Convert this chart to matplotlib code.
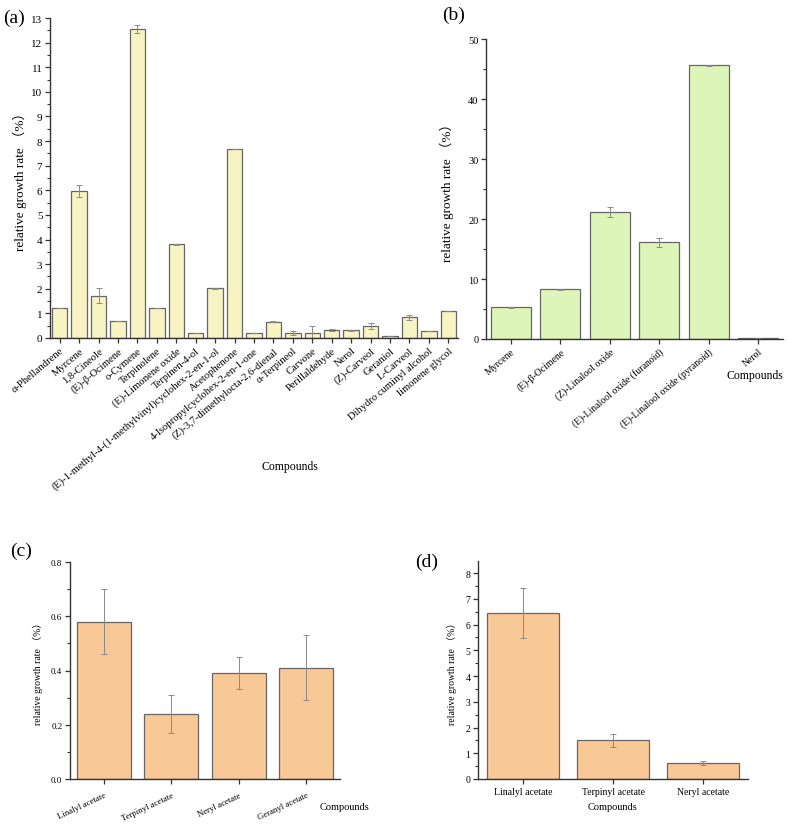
import matplotlib
matplotlib.use("Agg")
import matplotlib.pyplot as plt
from matplotlib.ticker import MultipleLocator, AutoMinorLocator

plt.rcParams['font.family'] = ['Liberation Serif', 'Noto Sans CJK SC', 'DejaVu Sans']

# ---------------- data ----------------
a_names = ["α-Phellandrene", "Myrcene", "1,8-Cineole", "(E)-β-Ocimene", "o-Cymene",
           "Terpinolene", "(E)-Limonene oxide", "Terpinen-4-ol",
           "(E)-1-methyl-4-(1-methylvinyl)cyclohex-2-en-1-ol", "Acetophenone",
           "4-Isopropylcyclohex-2-en-1-one", "(Z)-3,7-dimethylocta-2,6-dienal",
           "α-Terpineol", "Carvone", "Perillaldehyde", "Nerol", "(Z)-Carveol",
           "Geraniol", "L-Carveol", "Dihydro cuminyl alcohol", "limonene glycol"]
a_vals = [1.22, 5.98, 1.72, 0.69, 12.55, 1.20, 3.80, 0.20, 2.02, 7.67, 0.20, 0.67,
          0.20, 0.20, 0.33, 0.31, 0.48, 0.10, 0.84, 0.28, 1.09]
a_err = [0.0, 0.25, 0.30, 0.0, 0.15, 0.0, 0.03, 0.0, 0.03, 0.0, 0.0, 0.02,
         0.07, 0.28, 0.03, 0.02, 0.12, 0.0, 0.10, 0.0, 0.0]

b_names = ["Myrcene", "(E)-β-Ocimene", "(Z)-Linalool oxide", "(E)-Linalool oxide (furanoid)",
           "(E)-Linalool oxide (pyranoid)", "Nerol"]
b_vals = [5.3, 8.3, 21.2, 16.1, 45.6, 0.1]
b_err = [0.1, 0.1, 0.8, 0.7, 0.1, 0.0]

c_names = ["Linalyl acetate", "Terpinyl acetate", "Neryl acetate", "Geranyl acetate"]
c_vals = [0.58, 0.24, 0.39, 0.41]
c_err = [0.12, 0.07, 0.06, 0.12]

d_names = ["Linalyl acetate", "Terpinyl acetate", "Neryl acetate"]
d_vals = [6.45, 1.51, 0.62]
d_err = [0.97, 0.25, 0.07]

YLABEL = "relative growth rate （%）"

fig = plt.figure(figsize=(7.88, 8.29), dpi=100)
W, H = 788, 829

def ax_px(l, r, t, b):
    return fig.add_axes([l / W, 1 - b / H, (r - l) / W, (b - t) / H])

def style(ax, major, ylim, ts):
    for s in ["top", "right"]:
        ax.spines[s].set_visible(False)
    for s in ["left", "bottom"]:
        ax.spines[s].set_color("#333333")
        ax.spines[s].set_linewidth(1.0)
    ax.set_ylim(*ylim)
    ax.yaxis.set_major_locator(MultipleLocator(major))
    ax.yaxis.set_minor_locator(AutoMinorLocator(2))
    ax.tick_params(axis="both", which="major", direction="out", length=3.5,
                   width=0.9, color="#333333", labelsize=ts, pad=2)
    ax.tick_params(axis="y", which="minor", direction="out", length=2,
                   width=0.8, color="#333333")

def bars(ax, vals, err, color, capsize):
    x = list(range(len(vals)))
    ax.bar(x, vals, width=0.8, color=color, edgecolor="#666666", linewidth=0.9,
           yerr=err, error_kw=dict(ecolor="#8a8a8a", elinewidth=0.7,
                                   capsize=capsize, capthick=0.7))
    ax.set_xticks(x)
    ax.set_xlim(-0.5, len(vals) - 0.5)

# ---------- (a) ----------
axa = ax_px(50, 458, 19, 339)
bars(axa, a_vals, a_err, "#F7F3C2", 2.5)
style(axa, 1, (0, 13), 8)
axa.set_xticklabels(a_names, rotation=40, ha="right", rotation_mode="anchor", fontsize=7.6)
axa.set_ylabel(YLABEL, fontsize=9.5, labelpad=3)
fig.text(290 / W, 1 - 467 / H, "Compounds", ha="center", va="center", fontsize=8.5)
fig.text(3 / W, 1 - 18 / H, "(a)", ha="left", va="center", fontsize=14)

# ---------- (b) ----------
axb = ax_px(486, 783, 40, 340)
bars(axb, b_vals, b_err, "#DDF5B9", 2.5)
style(axb, 10, (0, 50), 7.5)
axb.set_xticklabels(b_names, rotation=40, ha="right", rotation_mode="anchor", fontsize=7)
axb.set_ylabel(YLABEL, fontsize=9.5, labelpad=10)
fig.text(755 / W, 1 - 376 / H, "Compounds", ha="center", va="center", fontsize=8.5)
fig.text(442 / W, 1 - 15 / H, "(b)", ha="left", va="center", fontsize=14)

# ---------- (c) ----------
axc = ax_px(70, 340, 563, 780)
bars(axc, c_vals, c_err, "#F9C897", 2)
style(axc, 0.2, (0, 0.8), 6.5)
axc.yaxis.set_major_formatter(matplotlib.ticker.FormatStrFormatter("%.1f"))
axc.set_xticklabels(c_names, rotation=25, ha="right", rotation_mode="anchor", fontsize=6.3)
axc.tick_params(axis="x", pad=5)
axc.set_ylabel(YLABEL, fontsize=7, labelpad=6)
fig.text(345 / W, 1 - 808 / H, "Compounds", ha="center", va="center", fontsize=7.5)
fig.text(10 / W, 1 - 551 / H, "(c)", ha="left", va="center", fontsize=14)

# ---------- (d) ----------
axd = ax_px(478, 748, 562, 780)
bars(axd, d_vals, d_err, "#F9C897", 2)
style(axd, 1, (0, 8.47), 7)
axd.set_xticklabels(d_names, rotation=0, fontsize=7)
axd.set_ylabel(YLABEL, fontsize=7, labelpad=6)
fig.text(612 / W, 1 - 808 / H, "Compounds", ha="center", va="center", fontsize=7.5)
fig.text(415 / W, 1 - 562 / H, "(d)", ha="left", va="center", fontsize=14)

fig.savefig("out.png", dpi=100, facecolor="white")
